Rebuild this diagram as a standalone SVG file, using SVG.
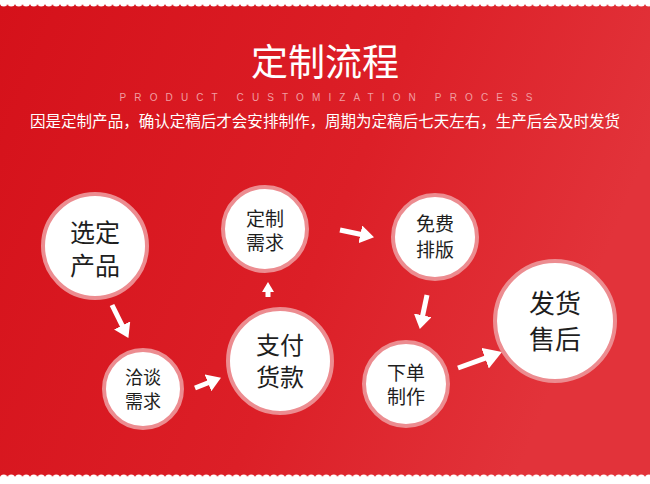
<svg xmlns="http://www.w3.org/2000/svg" width="650" height="484" viewBox="0 0 650 484">
<defs>
  <linearGradient id="bg" x1="0" y1="0" x2="1" y2="0.3">
    <stop offset="0" stop-color="#d5111a"/>
    <stop offset="0.6" stop-color="#dc1f27"/>
    <stop offset="1" stop-color="#e2333a"/>
  </linearGradient>
  <pattern id="scTop" x="0" y="0" width="7.5" height="10" patternUnits="userSpaceOnUse">
    <circle cx="3.75" cy="2.5" r="3.9" fill="#ffffff"/>
  </pattern>
  <pattern id="scBot" x="0" y="474" width="7.5" height="10" patternUnits="userSpaceOnUse">
    <circle cx="3.75" cy="4.5" r="3.9" fill="#ffffff"/>
  </pattern>
  <marker id="ah" viewBox="0 0 14 18" refX="1" refY="9" markerWidth="14" markerHeight="18" markerUnits="userSpaceOnUse" orient="auto">
    <polygon points="0,0 14,9 0,18" fill="#ffffff"/>
  </marker>
  <marker id="ahL" viewBox="0 0 18 22" refX="1" refY="11" markerWidth="18" markerHeight="22" markerUnits="userSpaceOnUse" orient="auto">
    <polygon points="0,0 18,11 0,22" fill="#ffffff"/>
  </marker>
  <marker id="ahS" viewBox="0 0 10 12" refX="1" refY="6" markerWidth="10" markerHeight="12" markerUnits="userSpaceOnUse" orient="auto">
    <polygon points="0,0 10,6 0,12" fill="#ffffff"/>
  </marker>
</defs>
<style>
  .node circle { fill: #ffffff; stroke: #ec8c90; stroke-width: 4; }
  .node text { font-family: "Noto Sans CJK SC", "Noto Sans", sans-serif; fill: #1e1e1e; text-anchor: middle; }
  .conn line { stroke: #ffffff; stroke-width: 5; }
  .hdr { font-family: "Noto Sans CJK SC", "Noto Sans", sans-serif; fill: #ffffff; text-anchor: middle; }
</style>
<rect x="0" y="0" width="650" height="484" fill="url(#bg)"/>
<rect x="0" y="0" width="650" height="2.5" fill="#ffffff"/>
<rect x="0" y="0" width="650" height="7" fill="url(#scTop)"/>
<rect x="0" y="478.5" width="650" height="5.5" fill="#ffffff"/>
<rect x="0" y="474" width="650" height="10" fill="url(#scBot)"/>

<g id="header">
  <text class="hdr" x="325" y="76" font-size="37">定制流程</text>
  <text x="326" y="101" font-family="Liberation Sans, sans-serif" font-size="10" fill="#f19ea2" text-anchor="middle" textLength="413" lengthAdjust="spacing">PRODUCT CUSTOMIZATION PROCESS</text>
  <text class="hdr" x="325" y="127" font-size="15.5" textLength="590" lengthAdjust="spacingAndGlyphs">因是定制产品，确认定稿后才会安排制作，周期为定稿后七天左右，生产后会及时发货</text>
</g>

<g class="conn" id="connectors">
  <line x1="112" y1="305" x2="122.6" y2="326.3" marker-end="url(#ah)"/>
  <line x1="195" y1="388" x2="208.9" y2="382.5" marker-end="url(#ah)"/>
  <line x1="268" y1="297" x2="268" y2="291" marker-end="url(#ahS)"/>
  <line x1="340" y1="230" x2="361.3" y2="234.5" marker-end="url(#ah)"/>
  <line x1="427" y1="295" x2="422.5" y2="316.3" marker-end="url(#ah)"/>
  <line x1="458" y1="368" x2="486" y2="357.8" marker-end="url(#ahL)"/>
</g>

<g class="node" id="n1">
  <circle cx="95" cy="246" r="52"/>
  <text font-size="25"><tspan x="95" y="241.5">选定</tspan><tspan x="95" y="274.5">产品</tspan></text>
</g>
<g class="node" id="n2">
  <circle cx="143" cy="389" r="39"/>
  <text font-size="18"><tspan x="143" y="384">洽谈</tspan><tspan x="143" y="408">需求</tspan></text>
</g>
<g class="node" id="n3">
  <circle cx="280" cy="361" r="52"/>
  <text font-size="24"><tspan x="280" y="354">支付</tspan><tspan x="280" y="386">货款</tspan></text>
</g>
<g class="node" id="n4">
  <circle cx="265" cy="229" r="42"/>
  <text font-size="19"><tspan x="265" y="225.5">定制</tspan><tspan x="265" y="250">需求</tspan></text>
</g>
<g class="node" id="n5">
  <circle cx="435" cy="237" r="42"/>
  <text font-size="19"><tspan x="435" y="231">免费</tspan><tspan x="435" y="257">排版</tspan></text>
</g>
<g class="node" id="n6">
  <circle cx="406" cy="384" r="42"/>
  <text font-size="19"><tspan x="406" y="379.5">下单</tspan><tspan x="406" y="404">制作</tspan></text>
</g>
<g class="node" id="n7">
  <circle cx="555" cy="321" r="60"/>
  <text font-size="26"><tspan x="555" y="313">发货</tspan><tspan x="555" y="349">售后</tspan></text>
</g>
</svg>
